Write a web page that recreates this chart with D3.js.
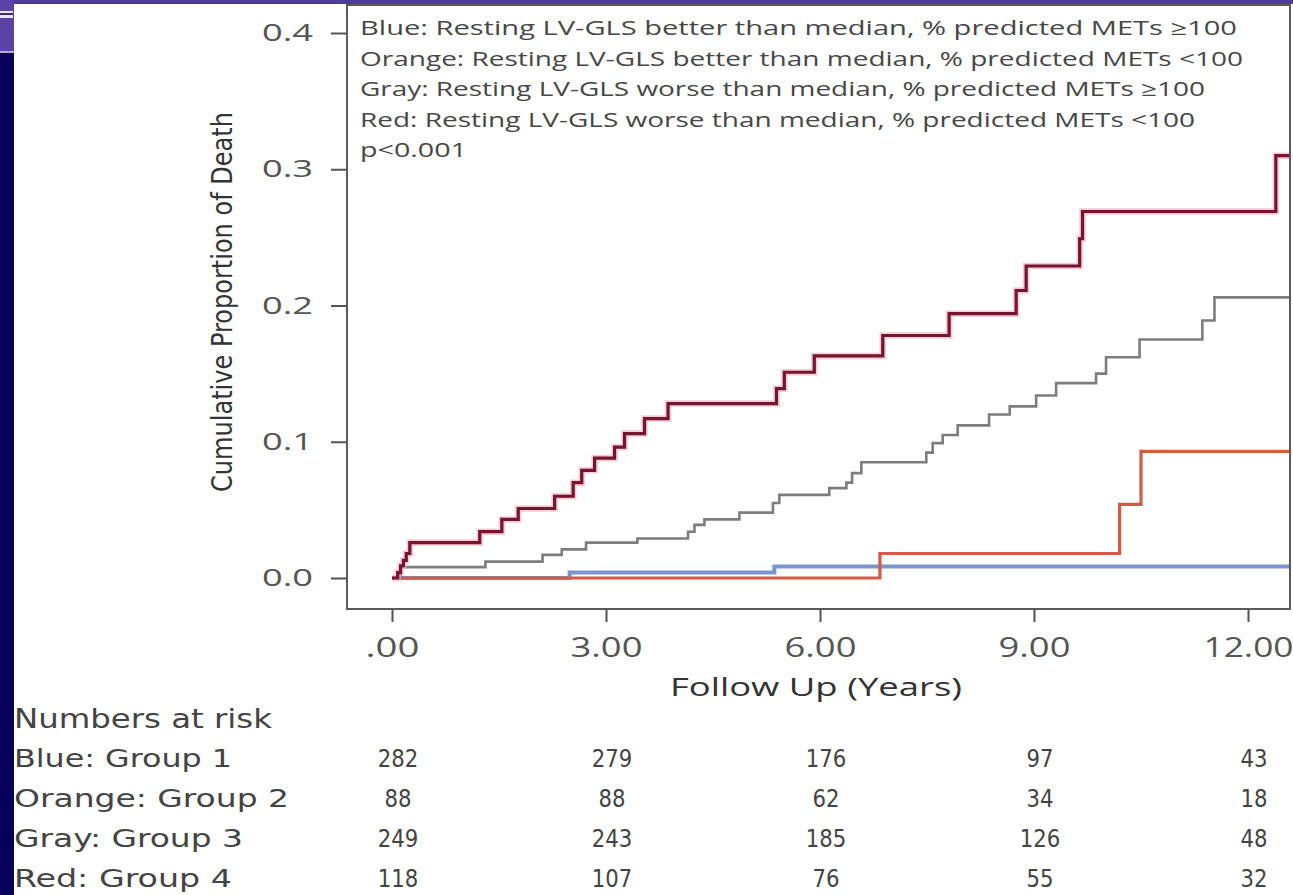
<!DOCTYPE html>
<html>
<head>
<meta charset="utf-8">
<script src="https://cdn.jsdelivr.net/npm/d3@7"></script>
<style>
  html, body { margin: 0; padding: 0; background: #ffffff; }
  svg { display: block; }
</style>
</head>
<body>
<svg id="chart" width="1293" height="895"></svg>
<script>
// Cumulative incidence of death by group (step functions: event times in years, cumulative proportion)
const blueTimes   = [0, 2.49, 5.36];
const blueValues  = [0, 0.004, 0.0085];

const orangeTimes  = [0, 6.84, 10.2, 10.5];
const orangeValues = [0, 0.018, 0.054, 0.093];

const grayTimes  = [0, 0.12, 1.31, 2.11, 2.38, 2.72, 3.44, 4.15, 4.24, 4.38, 4.87, 5.34, 5.43, 6.13, 6.37, 6.45, 6.58,
                    7.49, 7.58, 7.72, 7.93, 8.37, 8.66, 9.03, 9.31, 9.87, 10.01, 10.48, 11.36, 11.53];
const grayValues = [0, 0.008, 0.012, 0.017, 0.021, 0.026, 0.029, 0.034, 0.039, 0.043, 0.048, 0.055, 0.061, 0.066, 0.070, 0.077, 0.085,
                    0.092, 0.099, 0.105, 0.112, 0.120, 0.126, 0.134, 0.143, 0.150, 0.162, 0.175, 0.189, 0.206];

const redTimes  = [0, 0.08, 0.12, 0.16, 0.2, 0.25, 1.23, 1.54, 1.77, 2.28, 2.54, 2.66, 2.84, 3.12, 3.26, 3.54, 3.87,
                   5.39, 5.5, 5.92, 6.88, 7.81, 8.75, 8.89, 9.64, 9.68, 12.39];
const redValues = [0, 0.004, 0.009, 0.013, 0.018, 0.026, 0.034, 0.043, 0.051, 0.060, 0.070, 0.079, 0.088, 0.096, 0.106, 0.117, 0.128,
                   0.139, 0.151, 0.163, 0.178, 0.194, 0.211, 0.229, 0.249, 0.269, 0.310];

const followEnd = 12.6;

// Axis ticks
const xTicks = [0, 3, 6, 9, 12];
const xTickLabels = [".00", "3.00", "6.00", "9.00", "12.00"];
const yTicks = [0, 0.1, 0.2, 0.3, 0.4];

// Legend text
const legendLines = [
  "Blue: Resting LV-GLS better than median, % predicted METs \u2265100",
  "Orange: Resting LV-GLS better than median, % predicted METs <100",
  "Gray: Resting LV-GLS worse than median, % predicted METs \u2265100",
  "Red: Resting LV-GLS worse than median, % predicted METs <100",
  "p<0.001"
];

// Numbers at risk
const riskTimes = [0, 3, 6, 9, 12];
const riskLabels = ["Blue: Group 1", "Orange: Group 2", "Gray: Group 3", "Red: Group 4"];
const riskBlue   = [282, 279, 176, 97, 43];
const riskOrange = [88, 88, 62, 34, 18];
const riskGray   = [249, 243, 185, 126, 48];
const riskRed    = [118, 107, 76, 55, 32];

// ---------------------------------------------------------------
const svg = d3.select("#chart");

// slide background pieces at the edges
svg.append("rect").attr("x", 0).attr("y", 0).attr("width", 1293).attr("height", 4).attr("fill", "#4d3c9e");
svg.append("rect").attr("x", 0).attr("y", 0).attr("width", 14).attr("height", 895).attr("fill", "#06005a");
svg.append("rect").attr("x", 0).attr("y", 0).attr("width", 14).attr("height", 52).attr("fill", "#5a42a8");
svg.append("rect").attr("x", 0).attr("y", 11).attr("width", 13).attr("height", 7).attr("fill", "#e8e4f4");
svg.append("rect").attr("x", 0).attr("y", 13).attr("width", 13).attr("height", 2).attr("fill", "#3a2a80");
svg.append("rect").attr("x", 0).attr("y", 51).attr("width", 14).attr("height", 2).attr("fill", "#b9acd9");

// plot frame
const frame = { left: 347, top: 5, right: 1290, bottom: 609 };

const x = d3.scaleLinear().domain([0, 12]).range([392, 1248]);
const y = d3.scaleLinear().domain([0, 0.4]).range([578, 33]);

svg.append("defs").append("clipPath").attr("id", "plotClip")
  .append("rect")
  .attr("x", frame.left).attr("y", frame.top)
  .attr("width", frame.right - frame.left).attr("height", frame.bottom - frame.top);

const font = "'Open Sans', 'DejaVu Sans', sans-serif";
const narrow = "'Liberation Sans Narrow', 'DejaVu Sans Condensed', 'Open Sans', sans-serif";

// Y axis
const yAxis = d3.axisLeft(y).tickValues(yTicks).tickSize(16).tickPadding(18)
  .tickFormat(d => d.toFixed(1));
const gy = svg.append("g").attr("transform", `translate(${frame.left},0)`).call(yAxis);
gy.select(".domain").remove();
gy.selectAll(".tick line").attr("stroke", "#555").attr("stroke-width", 2);
gy.selectAll(".tick text")
  .attr("fill", "#555").attr("font-family", font).attr("font-size", 24)
  .attr("textLength", 51).attr("lengthAdjust", "spacingAndGlyphs");

// X axis
const xAxis = d3.axisBottom(x).tickValues(xTicks).tickSize(13)
  .tickFormat((d, i) => xTickLabels[i]);
const gx = svg.append("g").attr("transform", `translate(0,${frame.bottom})`).call(xAxis);
gx.select(".domain").remove();
gx.selectAll(".tick line").attr("stroke", "#555").attr("stroke-width", 2);
gx.selectAll(".tick text")
  .attr("fill", "#555").attr("font-family", font).attr("font-size", 27)
  .attr("y", 39).attr("dy", "0.35em")
  .attr("textLength", (d, i) => xTickLabels[i].length * 18)
  .attr("lengthAdjust", "spacingAndGlyphs");

// axis titles
svg.append("text")
  .attr("x", 816).attr("y", 687).attr("dy", "0.35em")
  .attr("text-anchor", "middle")
  .attr("fill", "#333").attr("font-family", font).attr("font-size", 26)
  .attr("textLength", 292).attr("lengthAdjust", "spacingAndGlyphs")
  .text("Follow Up (Years)");

svg.append("text")
  .attr("transform", "translate(222,302) rotate(-90)")
  .attr("dy", "0.35em")
  .attr("text-anchor", "middle")
  .attr("fill", "#333").attr("font-family", narrow).attr("font-size", 29)
  .attr("textLength", 380).attr("lengthAdjust", "spacingAndGlyphs")
  .text("Cumulative Proportion of Death");

// curves
const line = d3.line()
  .x(d => x(d[0]))
  .y(d => y(d[1]))
  .curve(d3.curveStepAfter);

function stepPoints(times, values) {
  const pts = times.map((t, i) => [t, values[i]]);
  pts.push([followEnd, values[values.length - 1]]);
  return pts;
}

const plot = svg.append("g").attr("clip-path", "url(#plotClip)");

const series = [
  { pts: stepPoints(blueTimes, blueValues), color: "#7a96d0", width: 4 },
  { pts: stepPoints(orangeTimes, orangeValues), color: "#d35a44", width: 3.2 },
  { pts: stepPoints(grayTimes, grayValues), color: "#7d7d7d", width: 2.6 },
];
series.forEach(s => {
  plot.append("path").attr("d", line(s.pts))
    .attr("fill", "none").attr("stroke", s.color).attr("stroke-width", s.width);
});

const redPts = stepPoints(redTimes, redValues);
plot.append("path").attr("d", line(redPts))
  .attr("fill", "none").attr("stroke", "#f2b3c3").attr("stroke-width", 6.5).attr("stroke-opacity", 0.7);
plot.append("path").attr("d", line(redPts))
  .attr("fill", "none").attr("stroke", "#76152f").attr("stroke-width", 3.2);

// frame on top
svg.append("rect")
  .attr("x", frame.left).attr("y", frame.top)
  .attr("width", frame.right - frame.left).attr("height", frame.bottom - frame.top)
  .attr("fill", "none").attr("stroke", "#5a5a5a").attr("stroke-width", 2);

// legend inside the plot
const legendWidths = [877, 883, 845, 835, 107];
svg.append("g").selectAll("text").data(legendLines).join("text")
  .attr("x", 360).attr("y", (d, i) => 28 + i * 30.5).attr("dy", "0.35em")
  .attr("fill", "#474747").attr("font-family", font).attr("font-size", 20)
  .attr("textLength", (d, i) => legendWidths[i]).attr("lengthAdjust", "spacingAndGlyphs")
  .text(d => d);

// numbers at risk table
svg.append("text")
  .attr("x", 14).attr("y", 719).attr("dy", "0.35em")
  .attr("fill", "#444").attr("font-family", narrow).attr("font-size", 26)
  .attr("textLength", 258).attr("lengthAdjust", "spacingAndGlyphs")
  .text("Numbers at risk");

const rowLabelWidths = [218, 275, 229, 218];
const riskRows = [riskBlue, riskOrange, riskGray, riskRed];
riskRows.forEach((row, r) => {
  const yy = 758 + r * 40;
  svg.append("text")
    .attr("x", 14).attr("y", yy).attr("dy", "0.35em")
    .attr("fill", "#444").attr("font-family", narrow).attr("font-size", 25)
    .attr("textLength", rowLabelWidths[r]).attr("lengthAdjust", "spacingAndGlyphs")
    .text(riskLabels[r]);
  svg.append("g").selectAll("text").data(row).join("text")
    .attr("x", (d, i) => x(riskTimes[i]) + 6).attr("y", yy).attr("dy", "0.35em")
    .attr("text-anchor", "middle")
    .attr("fill", "#444").attr("font-family", narrow).attr("font-size", 25)
    .attr("textLength", d => String(d).length * 13.5).attr("lengthAdjust", "spacingAndGlyphs")
    .text(d => d);
});
</script>
</body>
</html>
